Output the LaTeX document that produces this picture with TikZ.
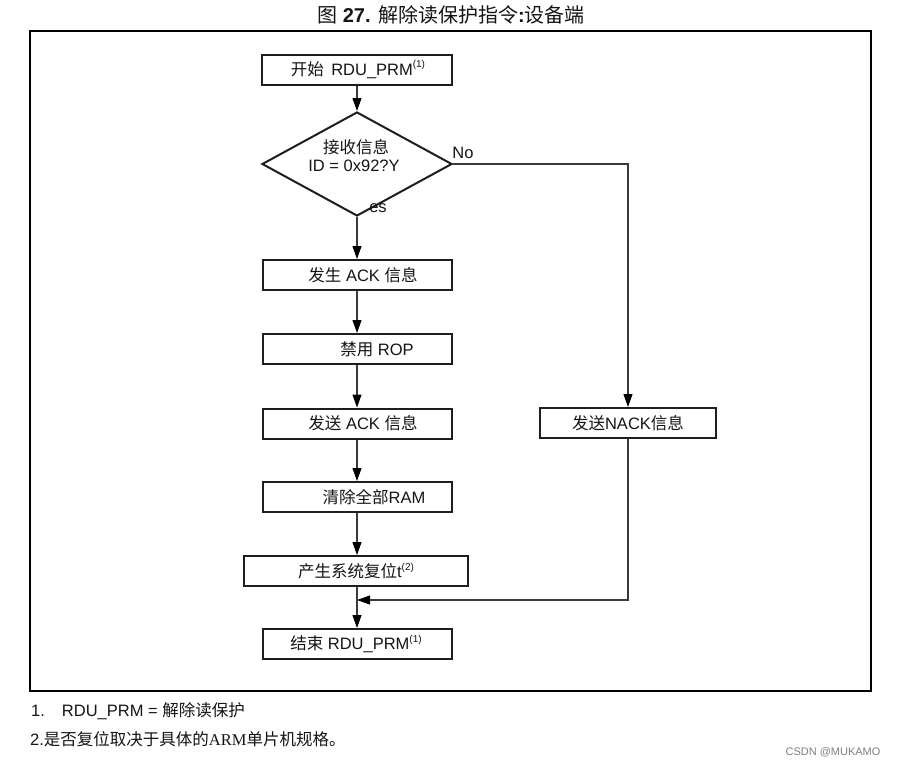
\documentclass[tikz,border=0pt]{standalone}
\usepackage{fontspec}
\setmainfont{Liberation Sans}
\newfontfamily\cjk{Noto Sans CJK SC}
\newfontfamily\serifl{Liberation Serif}
\usetikzlibrary{arrows.meta,shapes.geometric}
\newcommand\zh[1]{{\cjk #1}}
\newcommand\sps[1]{\raisebox{0.45em}{\fontsize{10}{10}\selectfont #1}}
\definecolor{boxline}{HTML}{1E1E1E}
\definecolor{conline}{HTML}{3A3A3A}
\definecolor{txt}{HTML}{151515}
\tikzset{
  stepbox/.style={draw=boxline, line width=2pt, rectangle, minimum height=30pt, inner sep=0pt},
  lbl/.style={text=txt, font=\fontsize{16.5}{19}\selectfont, inner sep=0pt},
  conn/.style={draw=conline, line width=1.1pt},
  arr/.style={conn, -{Triangle[length=13pt, width=9pt, color=black, fill=black]}},
}
\begin{document}
\begin{tikzpicture}[x=1pt, y=-1pt]
\useasboundingbox (0,0) rectangle (897,766);
\fill[white] (0,0) rectangle (897,766);
% title
\node[lbl, font=\fontsize{20}{22}\selectfont] (title) at (451,15) {\zh{图} \textbf{27.} \zh{解除读保护指令}\textbf{:}\zh{设备端}};
% frame
\draw[line width=1.5pt, black] (30,31) rectangle (871,691);
% boxes
\node[stepbox, minimum width=190pt] (b0) at (357,69.5) {};
\node[lbl] (t0) at (358,69.5) {\zh{开始}\, RDU\_PRM\sps{(1)}};
\node[draw=boxline, line width=2pt, diamond, aspect=1.86, minimum width=190pt, minimum height=104pt, inner sep=0pt] (d) at (357,164) {};
\node[lbl] (dt1) at (356,147) {\zh{接收信息}};
\node[lbl] (dt2) at (354,166) {ID = 0x92?Y};
\node[lbl] (no) at (463,153) {No};
\node[lbl] (yes) at (378,208) {es};
\node[stepbox, minimum width=189pt] (b1) at (357,275) {};
\node[lbl] (t1) at (363,275) {\zh{发生} ACK \zh{信息}};
\node[stepbox, minimum width=189pt] (b2) at (357,349) {};
\node[lbl] (t2) at (377,349) {\zh{禁用} ROP};
\node[stepbox, minimum width=189pt] (b3) at (357,423.5) {};
\node[lbl] (t3) at (363,423.5) {\zh{发送} ACK \zh{信息}};
\node[stepbox, minimum width=189pt] (b4) at (357,497) {};
\node[lbl] (t4) at (374,497) {\zh{清除全部}RAM};
\node[stepbox, minimum width=224pt] (b5) at (356,571) {};
\node[lbl] (t5) at (356,571) {\zh{产生系统复位}t\sps{(2)}};
\node[stepbox, minimum width=189pt] (b6) at (357,644) {};
\node[lbl] (t6) at (356,644) {\zh{结束} RDU\_PRM\sps{(1)}};
\node[stepbox, minimum width=176pt] (n) at (628,423) {};
\node[lbl] (tn) at (628,423) {\zh{发送}NACK\zh{信息}};
\coordinate (c1) at (628,164);
\coordinate (c2) at (628,600);
\coordinate (c3) at (357,600);
% connectors
\draw[arr] (b0.south) -- (d.north);
\draw[arr] (d.south) -- (b1.north);
\draw[arr] (b1.south) -- (b2.north);
\draw[arr] (b2.south) -- (b3.north);
\draw[arr] (b3.south) -- (b4.north);
\draw[arr] (b4.south) -- (b5.north -| b4.south);
\draw[arr] (b5.south -| b4.south) -- (b6.north);
\draw[arr] (d.east) -- (c1) -- (n.north);
\draw[arr] (n.south) -- (c2) -- (c3);
% footnotes
\node[lbl, anchor=west] (f1) at (31,711) {1.\hspace{17pt}RDU\_PRM = \zh{解除读保护}};
\node[lbl, anchor=west] (f2) at (30,739) {2.\zh{是否复位取决于具体的}{\serifl ARM}\zh{单片机规格。}};
\node[text=gray, font=\fontsize{11}{12}\selectfont, inner sep=0pt] (wm) at (833,752) {CSDN @MUKAMO};
\end{tikzpicture}
\end{document}
